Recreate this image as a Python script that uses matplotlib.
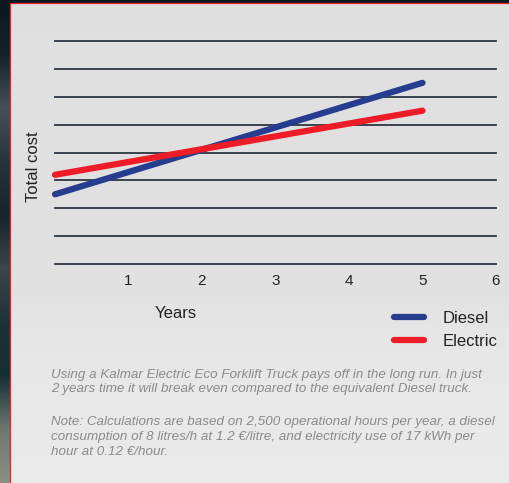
import numpy as np
import matplotlib.pyplot as plt
from matplotlib.lines import Line2D

plt.rcParams['font.family'] = ['Liberation Sans', 'DejaVu Sans']

# cost curves (arbitrary units) at year 0 and year 5
years = [0, 5]
diesel = [2.5, 6.5]
electric = [3.2, 5.5]
grid_levels = list(range(0, 9))
tick_years = [1, 2, 3, 4, 5, 6]
tick_labels = ['1', '2', '3', '4', '5', '6']

caption = ("Using a Kalmar Electric Eco Forklift Truck pays off in the long run. In just\n"
           "2 years time it will break even compared to the equivalent Diesel truck.")
note = ("Note: Calculations are based on 2,500 operational hours per year, a diesel\n"
        "consumption of 8 litres/h at 1.2 \u20ac/litre, and electricity use of 17 kWh per\n"
        "hour at 0.12 \u20ac/hour.")

blue = '#263d8f'
red = '#ee1c27'

W, H = 510, 483
fig = plt.figure(figsize=(W / 100, H / 100), dpi=100)
fig.patch.set_facecolor('#0c1820')

# dark backdrop strip on the left, varying down the page
bg = fig.add_axes([0, 0, 1, 1], zorder=-10)
bg.set_axis_off()
strip = np.array([
    [12, 24, 32], [20, 34, 44], [70, 80, 92], [40, 52, 60], [22, 36, 44],
    [60, 70, 72], [30, 50, 56], [20, 46, 54], [110, 118, 110], [140, 144, 132],
], dtype=float) / 255
rows = np.linspace(0, 1, 200)
img = np.stack([np.interp(rows, np.linspace(0, 1, len(strip)), strip[:, k]) for k in range(3)], axis=-1)
bg.imshow(img[:, None, :], extent=[0, 10 / W, 0, 1], aspect='auto', origin='upper')

# light panel with a red edge at the top and left
panel = np.linspace(0, 1, 100)
shade = np.interp(panel, [0, 0.6, 0.7, 1], [0.878, 0.883, 0.905, 0.92])
bg.imshow(np.repeat(shade[:, None, None], 3, axis=2), extent=[10 / W, 1, 0, 1 - 3 / H],
          aspect='auto', origin='upper', zorder=1)
bg.plot([10 / W, 10 / W, 1], [0, 1 - 3 / H, 1 - 3 / H], color='#e8242c', lw=0.9, zorder=2)
bg.set_xlim(0, 1)
bg.set_ylim(0, 1)

ax = fig.add_axes([55 / W, 1 - 264 / H, (496 - 55) / W, (264 - 41) / H])
ax.set_facecolor('none')
for s in ax.spines.values():
    s.set_visible(False)

for lvl in grid_levels:
    ax.axhline(lvl, color='#2c3642', lw=1.3, zorder=1, clip_on=False)

ax.plot(years, diesel, color=blue, lw=4.5, solid_capstyle='round', zorder=3, clip_on=False)
ax.plot(years, electric, color=red, lw=4.5, solid_capstyle='round', zorder=4, clip_on=False)

ax.set_xlim(0, 6)
ax.set_ylim(0, 8)
ax.set_xticks(tick_years)
ax.set_xticklabels(tick_labels, fontsize=11, color='#222222')
ax.set_yticks([])
ax.tick_params(axis='x', length=0, pad=7)

fig.text(176 / W, 1 - 313 / H, 'Years', fontsize=12, color='#222222', ha='center', va='center')
fig.text(33 / W, 1 - 167 / H, 'Total cost', fontsize=12, color='#222222', rotation=90,
         ha='center', va='center')

handles = [Line2D([], [], color=blue, lw=4.5, solid_capstyle='round'),
           Line2D([], [], color=red, lw=4.5, solid_capstyle='round')]
fig.legend(handles, ['Diesel', 'Electric'], loc='center left',
           bbox_to_anchor=(386 / W, 1 - 330 / H), frameon=False, fontsize=12,
           handlelength=1.8, handletextpad=1.1, labelspacing=0.45, borderpad=0,
           labelcolor='#222222')

fig.text(51 / W, 1 - 382 / H, caption, fontsize=9.6, style='italic', color='#8a8a8a',
         ha='left', va='center', linespacing=1.3)
fig.text(51 / W, 1 - 437 / H, note, fontsize=9.6, style='italic', color='#8a8a8a',
         ha='left', va='center', linespacing=1.3)

fig.savefig('out.png', dpi=100)
